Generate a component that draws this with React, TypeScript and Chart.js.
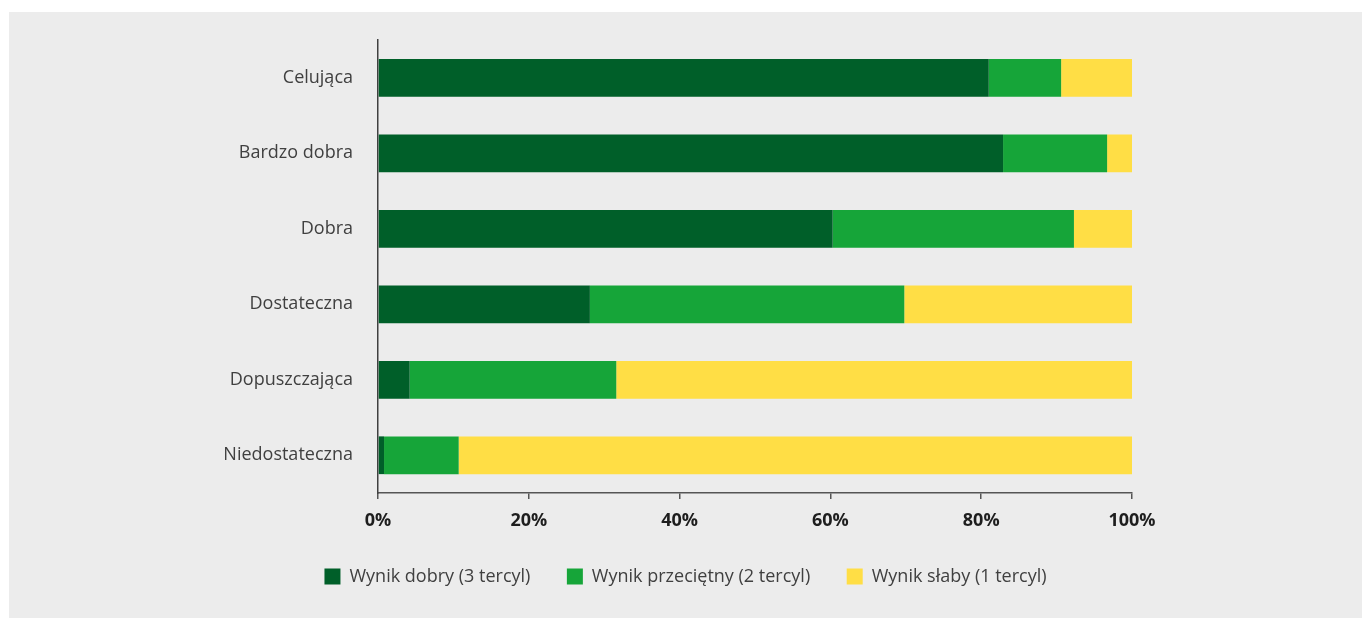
import React, { useEffect, useRef } from "react";
import { Chart, registerables } from "chart.js";

Chart.register(...registerables);

const categories = [
  "Celująca",
  "Bardzo dobra",
  "Dobra",
  "Dostateczna",
  "Dopuszczająca",
  "Niedostateczna",
];

const seriesNames = [
  "Wynik dobry (3 tercyl)",
  "Wynik przeciętny (2 tercyl)",
  "Wynik słaby (1 tercyl)",
];

const goodValues = [81.0, 82.9, 60.3, 28.1, 4.2, 0.8];
const averageValues = [9.6, 13.8, 32.0, 41.7, 27.4, 9.9];
const weakValues = [9.4, 3.3, 7.7, 30.2, 68.4, 89.3];

const xTicks = [0, 20, 40, 60, 80, 100];

const colors = ["#005f29", "#16a539", "#ffde45"];

const zeroPadding = (scale: any) => {
  scale.paddingTop = 0;
  scale.paddingBottom = 0;
  scale.paddingLeft = 0;
  scale.paddingRight = 0;
};

export default function App() {
  const canvasRef = useRef<HTMLCanvasElement | null>(null);

  useEffect(() => {
    document.body.style.margin = "0";
    const canvas = canvasRef.current;
    if (!canvas) return;
    const font = "'Open Sans', 'Noto Sans', sans-serif";
    const chart = new Chart(canvas, {
      type: "bar",
      data: {
        labels: categories,
        datasets: [
          { label: seriesNames[0], data: goodValues, backgroundColor: colors[0] },
          { label: seriesNames[1], data: averageValues, backgroundColor: colors[1] },
          { label: seriesNames[2], data: weakValues, backgroundColor: colors[2] },
        ],
      },
      options: {
        indexAxis: "y",
        responsive: false,
        maintainAspectRatio: false,
        animation: false,
        devicePixelRatio: 1,
        layout: { padding: { left: 100, right: 100, top: 28, bottom: 22.5 } },
        datasets: {
          bar: { barPercentage: 0.5, categoryPercentage: 1.0, borderWidth: 0 },
        },
        scales: {
          x: {
            stacked: true,
            min: 0,
            max: 100,
            afterBuildTicks: (scale: any) => {
              scale.ticks = xTicks.map((v) => ({ value: v }));
            },
            afterFit: (scale: any) => {
              scale.height = 38;
              zeroPadding(scale);
            },
            grid: {
              display: true,
              drawOnChartArea: false,
              drawTicks: true,
              tickLength: 6,
              color: "#555555",
              lineWidth: 1.5,
            },
            border: { display: true, color: "#555555", width: 1.5 },
            ticks: {
              padding: 11,
              color: "#1e1e1e",
              font: { family: font, size: 18, weight: "bold" },
              callback: (v: any) => v + "%",
              maxRotation: 0,
            },
          },
          y: {
            stacked: true,
            afterFit: (scale: any) => {
              scale.width = 269;
              zeroPadding(scale);
            },
            grid: { display: false, drawTicks: false },
            border: { display: true, color: "#404040", width: 1.5 },
            ticks: {
              padding: 25,
              color: "#404040",
              font: { family: font, size: 18 },
            },
          },
          y2: {
            type: "linear",
            position: "right",
            display: true,
            afterFit: (scale: any) => {
              scale.width = 130;
              zeroPadding(scale);
            },
            grid: { display: false, drawTicks: false },
            border: { display: false },
            ticks: { display: false },
          },
        },
        plugins: {
          legend: {
            position: "bottom",
            align: "center",
            labels: {
              boxWidth: 16,
              boxHeight: 16,
              padding: 36.5,
              color: "#404040",
              font: { family: font, size: 18 },
            },
          },
          tooltip: { enabled: false },
        },
      },
    });
    return () => chart.destroy();
  }, []);

  return (
    <div style={{ position: "relative", width: 1362, height: 618, background: "#ffffff", overflow: "hidden" }}>
      <canvas
        ref={canvasRef}
        width={1353}
        height={606}
        style={{ position: "absolute", left: 9, top: 12, width: 1353, height: 606, background: "#ececec" }}
      />
    </div>
  );
}
